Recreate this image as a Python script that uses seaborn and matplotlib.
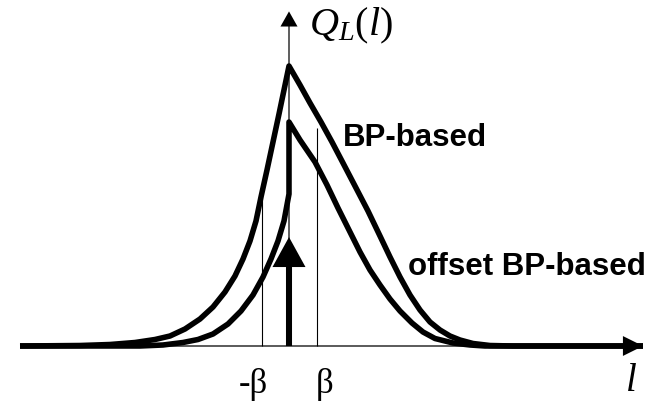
import matplotlib
matplotlib.use("Agg")
import matplotlib.pyplot as plt
import numpy as np
import pandas as pd
import seaborn as sns

# Quantizer density curves Q_L(l); l in units of beta, Q normalised to the BP peak
PX_PER_L = 27.5
PX_PER_Q = 280.0
X0, Y0 = 289.0, 346.0

# BP-based curve, sampled along the drawn outline (screen units)
bp_x = [20, 80, 110, 135, 155, 170, 185, 200, 213, 225, 235, 243, 250, 256, 261,
        267, 273, 279, 284, 289,
        300, 310, 321, 332, 343, 355, 368, 380, 390, 400, 410, 420, 430, 440,
        450, 460, 473, 490, 513, 643]
bp_y = [346, 345.5, 344.5, 342.5, 339.5, 336, 329, 319, 307, 292, 276, 259, 241, 221, 197,
        170, 142, 114, 90, 66,
        85, 103, 122, 142, 163, 186, 211, 236, 257, 277, 295, 310, 322, 330,
        336, 340, 343.5, 345.5, 346, 346]

# offset BP-based curve (jumps at l = 0)
off_x = [20, 140, 163, 183, 198, 213, 228, 241, 253, 263, 271, 278, 284, 289,
         289, 300, 315, 327, 338, 350, 360, 370, 380, 390, 400, 412, 423, 435,
         453, 470, 485, 643]
off_y = [346, 346, 345, 342.5, 339.5, 334, 324, 311, 295, 277, 259, 241, 221, 194,
         122, 140, 162, 185, 208, 232, 252, 270, 285, 299, 311, 323, 332, 338.5,
         343, 345, 346, 346]

beta = 1.0
delta_mass = 0.389          # height of the impulse at l = 0
beta_line_tops = [0.546, 0.78]

curve_labels = ["BP-based", "offset BP-based"]
tick_labels = ["-\u03b2", "\u03b2"]


def to_l(xs):
    return [(x - X0) / PX_PER_L for x in xs]


def to_q(ys):
    return [(Y0 - y) / PX_PER_Q for y in ys]


sns.set_style("white")
plt.rcParams["mathtext.fontset"] = "custom"
plt.rcParams["mathtext.rm"] = "Liberation Serif"
plt.rcParams["mathtext.it"] = "Liberation Serif:italic"
plt.rcParams["text.color"] = "black"

fig = plt.figure(figsize=(6.52, 4.01), dpi=100)
ax = fig.add_axes([0, 0, 1, 1])
ax.set_xlim(-X0 / PX_PER_L, (652 - X0) / PX_PER_L)
ax.set_ylim((Y0 - 401) / PX_PER_Q, Y0 / PX_PER_Q)
ax.axis("off")

# thin axes with arrow heads
x_lo, x_hi = to_l([20])[0], to_l([643])[0]
y_hi = 1.195
ax.arrow(x_lo, 0, x_hi - x_lo, 0, width=0.0045, head_width=0.071, head_length=0.73,
         length_includes_head=True, color="black", lw=0)
ax.arrow(0, 0, 0, y_hi, width=0.045, head_width=0.62, head_length=0.054,
         length_includes_head=True, color="black", lw=0)

# thin markers at -beta and beta
for pos, top in zip([-beta, beta], beta_line_tops):
    ax.plot([pos, pos], [0, top], color="black", lw=0.8, solid_capstyle="butt")

bp = pd.DataFrame({"l": to_l(bp_x), "Q": to_q(bp_y)})
off = pd.DataFrame({"l": to_l(off_x), "Q": to_q(off_y)})
for df in (bp, off):
    sns.lineplot(data=df, x="l", y="Q", ax=ax, color="black", lw=4.0,
                 estimator=None, sort=False, solid_joinstyle="round",
                 solid_capstyle="butt")

# impulse at the origin
ax.arrow(0, 0, 0, delta_mass, width=0.22, head_width=1.2, head_length=0.107,
         length_includes_head=True, color="black", lw=0)

bold = dict(family="Liberation Sans", weight="bold", fontsize=22.5, va="baseline",
            color="black")
ax.text(1.96, 0.714, curve_labels[0], ha="left", **bold)
ax.text(4.33, 0.254, curve_labels[1], ha="left", **bold)

serif = dict(family="Liberation Serif", fontsize=25, va="baseline", ha="center",
             color="black")
ax.text(-1.31, -0.168, tick_labels[0], **serif)
ax.text(1.31, -0.168, tick_labels[1], **serif)
ax.text(12.42, -0.16, "$l$", fontsize=28, va="baseline", ha="center", color="black")
ax.text(0.74, 1.11, "$Q_L(l)$", fontsize=29, va="baseline", ha="left", color="black")

fig.savefig("out.png", dpi=100)
